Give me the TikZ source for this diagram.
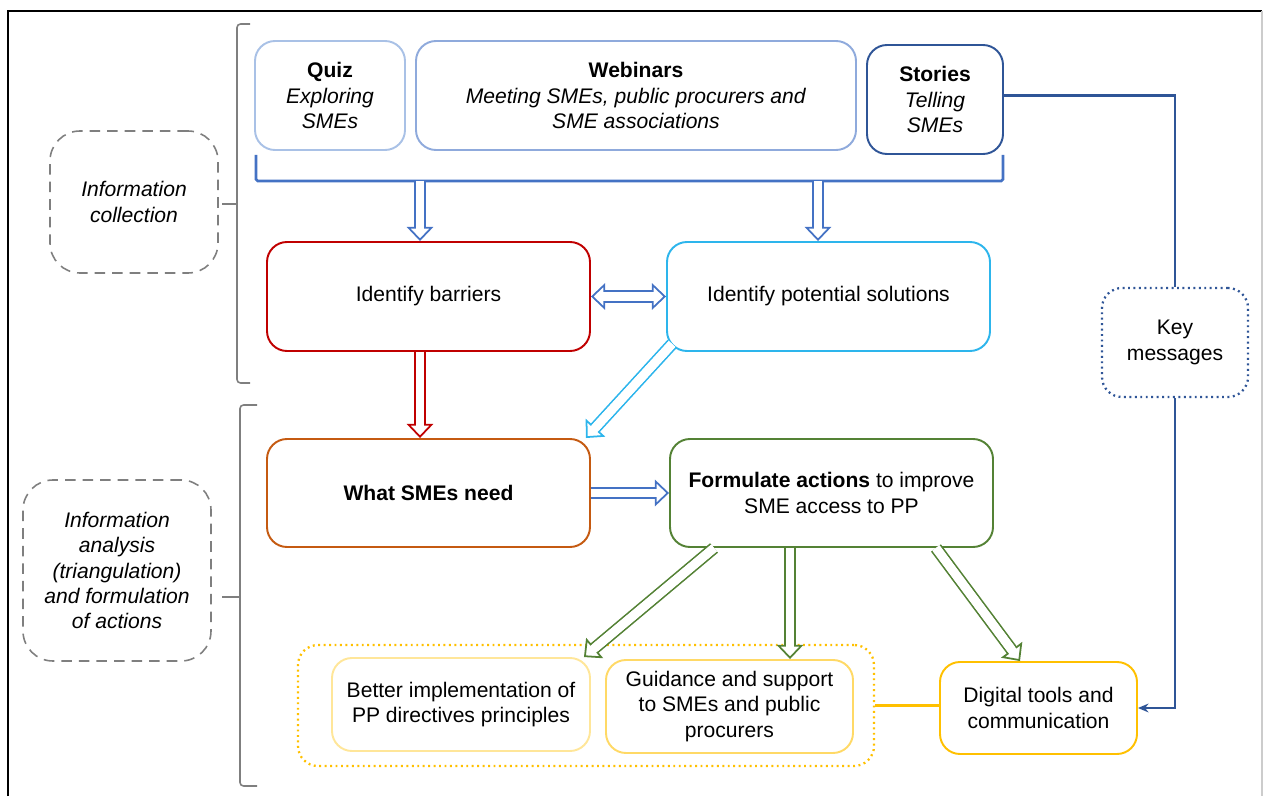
\documentclass[tikz,border=0pt]{standalone}
\usepackage{fontspec}
\setmainfont{Liberation Sans}
\usetikzlibrary{arrows.meta}

\definecolor{quizblue}{HTML}{A9C1E6}
\definecolor{webblue}{HTML}{8FAADC}
\definecolor{darkblue}{HTML}{2F5597}
\definecolor{midblue}{HTML}{4472C4}
\definecolor{barred}{HTML}{C00000}
\definecolor{solcyan}{HTML}{2DB5EC}
\definecolor{needorange}{HTML}{C55A11}
\definecolor{actgreen}{HTML}{548235}
\definecolor{paleyellow}{HTML}{FFE699}
\definecolor{softyellow}{HTML}{FFD966}
\definecolor{amber}{HTML}{FFC000}
\definecolor{dashgrey}{HTML}{7F7F7F}

\begin{document}
\begin{tikzpicture}[
		font=\fontsize{12}{14.4}\selectfont,
		box/.style={draw, rounded corners=0.4cm, line width=1.1pt, align=center, inner sep=0pt},
		side/.style={draw=dashgrey, dash pattern=on 6pt off 4pt, rounded corners=0.6cm, line width=0.9pt, align=center, font=\fontsize{12}{14.4}\selectfont\itshape},
		hollow/.style={double=white, double distance=5pt, line width=1pt, -{Triangle[open, fill=white, length=8pt, width=15pt]},
			postaction={draw=white, line width=5pt, arrows=-, shorten >=5pt}},
		twoway/.style={double=white, double distance=5pt, line width=1pt, {Triangle[open, fill=white, length=8pt, width=15pt]}-{Triangle[open, fill=white, length=8pt, width=15pt]},
			postaction={draw=white, line width=5pt, arrows=-, shorten >=5pt, shorten <=5pt}},
		link/.style={line width=1.2pt},
		brace/.style={draw=dashgrey, line width=0.9pt, rounded corners=2pt}
	]
	\useasboundingbox (0,0) rectangle (25.3,15.92);
	% frame
	\draw [line width=1.4pt] (0.16,0) -- (0.16,15.70) -- (25.24,15.70);
	\draw [gray!40, line width=0.6pt] (25.24,15.70) -- (25.24,0);

	% left labels and braces
	\node [side, minimum width=3.36cm, minimum height=2.84cm] (collect) at (2.68,11.88) {Information\\collection};
	\node [side, minimum width=3.76cm, minimum height=3.62cm] (analysis) at (2.34,4.51) {Information\\analysis\\(triangulation)\\and formulation\\of actions};
	\draw [brace] (5.00,15.44) -| (4.74,8.26) -- (5.00,8.26);
	\draw [brace] (4.74,11.84) -- (4.44,11.84);
	\draw [brace] (5.14,7.82) -| (4.80,0.20) -- (5.14,0.20);
	\draw [brace] (4.80,3.98) -- (4.44,3.98);

	% information sources
	\node [box, draw=quizblue, minimum width=3.0cm, minimum height=2.18cm] (quiz) at (6.60,14.01) {\textbf{Quiz}\\\textit{Exploring}\\\textit{SMEs}};
	\node [box, draw=webblue, minimum width=8.8cm, minimum height=2.18cm] (webinars) at (12.72,14.01) {\textbf{Webinars}\\\textit{Meeting SMEs, public procurers and}\\\textit{SME associations}};
	\node [box, draw=darkblue, minimum width=2.72cm, minimum height=2.18cm] (stories) at (18.70,13.93) {\textbf{Stories}\\\textit{Telling}\\\textit{SMEs}};
	\draw [midblue, line width=1.6pt, rounded corners=1pt] (5.12,12.82) -- (5.12,12.30) -- (20.06,12.30) -- (20.06,12.82);
	\coordinate (b1) at (8.40,12.30);
	\coordinate (b2) at (16.36,12.30);

	% analysis
	\node [box, draw=barred, minimum width=6.46cm, minimum height=2.18cm] (barriers) at (8.57,9.99) {Identify barriers};
	\node [box, draw=solcyan, minimum width=6.46cm, minimum height=2.18cm] (solutions) at (16.57,9.99) {Identify potential solutions};
	\node [box, draw=needorange, minimum width=6.46cm, minimum height=2.16cm] (needs) at (8.57,6.06) {\textbf{What SMEs need}};
	\node [box, draw=actgreen, minimum width=6.46cm, minimum height=2.16cm] (actions) at (16.63,6.06) {\textbf{Formulate actions} to improve\\SME access to PP};

	% actions
	\node [box, draw=amber, dotted, line width=1.3pt, minimum width=11.52cm, minimum height=2.42cm] (group) at (11.72,1.81) {};
	\node [box, draw=paleyellow, minimum width=5.16cm, minimum height=1.86cm] (better) at (9.22,1.83) {Better implementation of\\PP directives principles};
	\node [box, draw=softyellow, minimum width=4.94cm, minimum height=1.86cm] (guidance) at (14.59,1.79) {Guidance and support\\to SMEs and public\\procurers};
	\node [box, draw=amber, minimum width=3.94cm, minimum height=1.84cm] (digital) at (20.77,1.76) {Digital tools and\\communication};
	\node [box, draw=darkblue, dotted, line width=1.3pt, minimum width=2.92cm, minimum height=2.18cm] (keymsg) at (23.50,9.07) {Key\\messages};

	% arrows
	\draw [hollow, midblue] (b1) -- (b1 |- barriers.north);
	\draw [hollow, midblue] (b2) -- (b2 |- solutions.north);
	\draw [twoway, midblue] (barriers.east) -- (solutions.west);
	\draw [hollow, barred] (barriers.south -| b1) -- (needs.north -| b1);
	\draw [hollow, solcyan] ([shift={(0.12,0.16)}]solutions.south west) -- ([xshift=-0.1cm]needs.north east);
	\draw [hollow, midblue] (needs.east) -- (actions.west);
	\draw [hollow, actgreen] ([xshift=0.9cm]actions.south west) -- ([xshift=-0.14cm]better.north east);
	\draw [hollow, actgreen] ([xshift=-0.83cm]actions.south) -- ([xshift=-0.83cm]actions.south |- guidance.north);
	\draw [hollow, actgreen] ([xshift=-1.16cm]actions.south east) -- ([xshift=-0.37cm]digital.north);
	\draw [link, draw=amber] (group.east) -- (group.east -| digital.west);
	\draw [link, draw=darkblue] ([yshift=0.08cm]stories.east) -| (keymsg.north);
	\draw [link, draw=darkblue, -{Stealth[length=6pt, width=5pt]}] (keymsg.south) |- (digital.east);
\end{tikzpicture}
\end{document}
